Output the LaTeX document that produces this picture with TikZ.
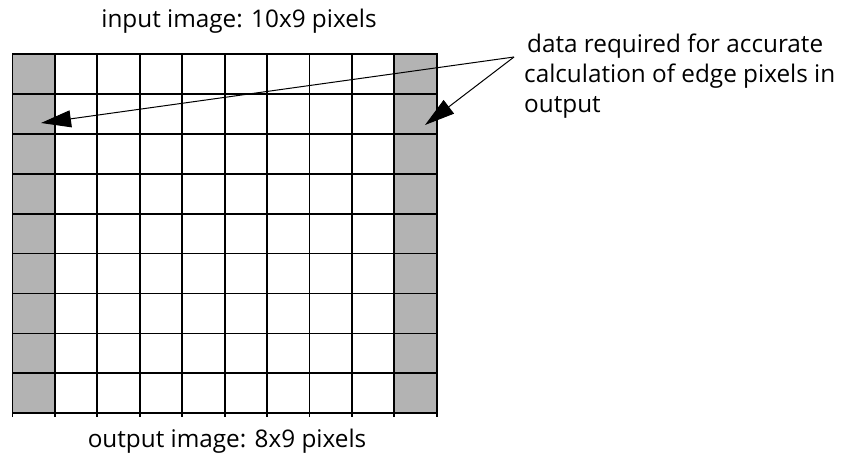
\documentclass[tikz,border=0pt]{standalone}
\usepackage{fontspec}
\setmainfont{Open Sans}
\usetikzlibrary{arrows.meta}
\definecolor{cellgray}{HTML}{B3B3B3}
\tikzset{
  gridline/.style={line width=1.8pt, line cap=rect},
  label/.style={font=\fontsize{24.3}{29}\selectfont, inner sep=0pt},
  pointer/.style={line width=1pt, -{Triangle[length=30pt,width=17pt]}}
}
\begin{document}
\begin{tikzpicture}[x=1pt,y=-1pt]
\useasboundingbox (0,0) rectangle (849,454);
\def\cw{42.42}
\def\rh{39.92}
% gray edge columns
\fill[cellgray] (12.5,54) rectangle (12.5+\cw,54+9*\rh);
\fill[cellgray] (12.5+9*\cw,54) rectangle (12.5+10*\cw,54+9*\rh);
% grid
\foreach \i in {0,...,10} {
  \draw[gridline] (12.5+\i*\cw,54) -- (12.5+\i*\cw,54+9*\rh+3);
}
\foreach \j in {0,...,9} {
  \draw[gridline] (12.5,54+\j*\rh) -- (12.5+10*\cw,54+\j*\rh);
}
% labels
\node[label, anchor=base] (inlab) at (239,28) {input image: 10x9 pixels};
\node[label, anchor=base] (outlab) at (227,447) {output image: 8x9 pixels};
\node[label, anchor=base west] (n1) at (527,53) {data required for accurate};
\node[label, anchor=base west] (n2) at (524,83) {calculation of edge pixels in};
\node[label, anchor=base west] (n3) at (524,113) {output};
% arrows
\coordinate (src) at (514,57);
\coordinate (ltip) at (41,123);
\coordinate (rtip) at (425,125);
\draw[pointer] (src) -- (ltip);
\draw[pointer] (src) -- (rtip);
\end{tikzpicture}
\end{document}
